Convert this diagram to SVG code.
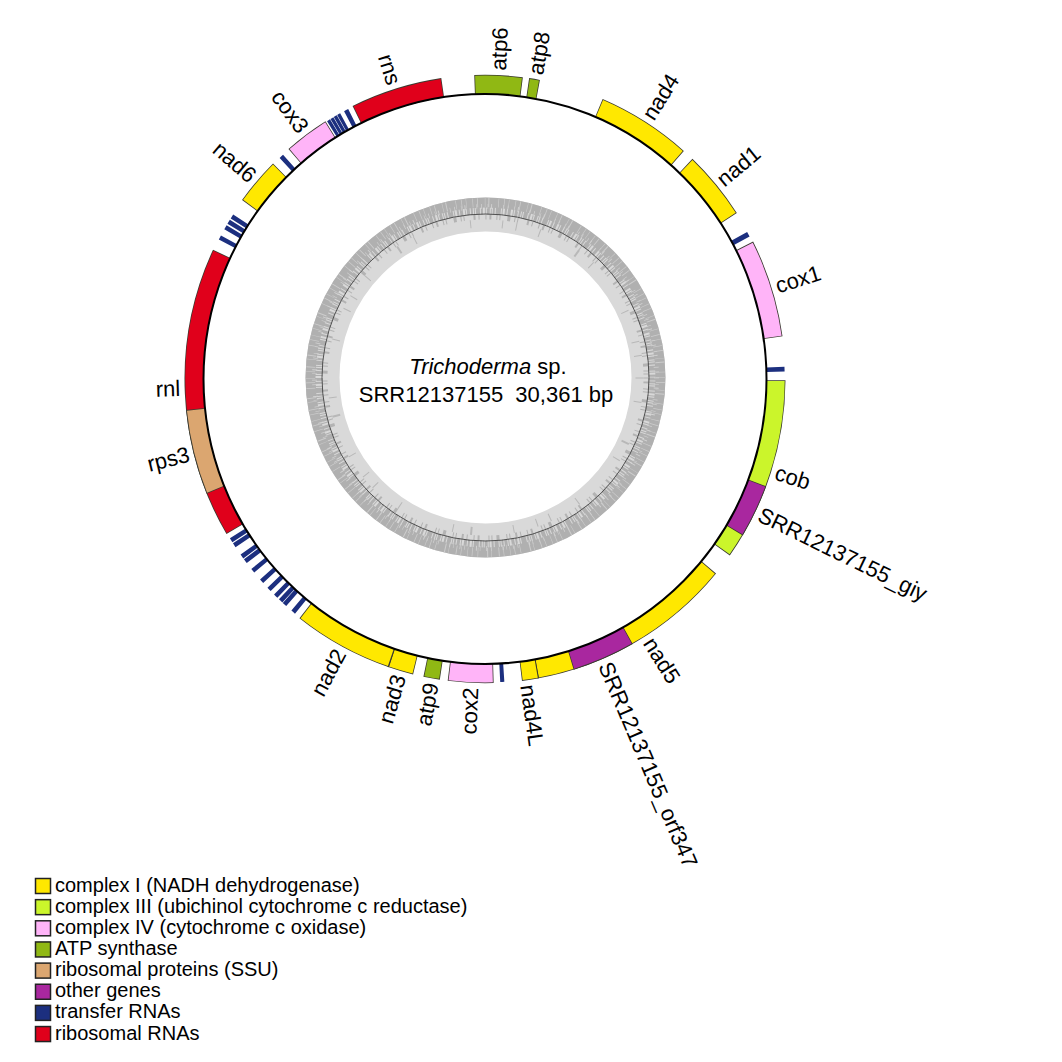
<svg xmlns="http://www.w3.org/2000/svg" width="1062" height="1062" viewBox="0 0 1062 1062">
<style>
text{font-family:"Liberation Sans",Arial,Helvetica,sans-serif;fill:#000}
.lbl{font-size:22px}
.ol{fill:none;stroke:#3a3a30;stroke-width:19.2}
.f{fill:none;stroke-width:18.2}
.t{fill:none;stroke:#1c2f7f;stroke-width:18.2}
.cI{stroke:#ffe800}
.cIII{stroke:#cbf52b}
.cIV{stroke:#ffb4f8}
.atp{stroke:#90b814}
.rp{stroke:#dba670}
.oth{stroke:#a9279f}
.rr{stroke:#e0001b}
.lg{stroke:#222;stroke-width:1.5}
.leg{font-size:20px}
</style>
<rect width="1062" height="1062" fill="#fff"/>

<g id="gc-ring" fill="none">
<circle cx="485.5" cy="377.5" r="163" stroke="#d9d9d9" stroke-width="34"/>
<circle cx="485.5" cy="377.5" r="175" stroke="#b0b0b0" stroke-width="10"/>
<circle cx="485.5" cy="377.5" r="167" stroke="#b0b0b0" stroke-width="8" stroke-dasharray="3 1 2 1 1 1 4 1 2 2 1 1 3 1 1 1 2 1 5 1 1 2 2 1 3 2 1 1"/>
<circle cx="485.5" cy="377.5" r="160.5" stroke="#b3b3b3" stroke-width="5" stroke-dasharray="1 3 2 5 1 2 1 7 3 4 1 2 1 9 2 3 1 6"/>
<circle cx="485.5" cy="377.5" r="154" stroke="#b8b8b8" stroke-width="8" stroke-dasharray="1 23 1 41 2 17 1 57 1 31 1 13"/>
<circle cx="485.5" cy="377.5" r="175" stroke="#cdcdcd" stroke-width="9" stroke-dasharray="0.6 4 0.8 7 0.5 3 1 9 0.6 5 0.7 4 0.5 6"/>
<circle cx="485.5" cy="377.5" r="171" stroke="#d2d2d2" stroke-width="5" stroke-dasharray="0.7 6 0.5 3 0.9 11 0.6 4"/>
<circle cx="485.5" cy="377.5" r="163.5" stroke="#333" stroke-width="0.8"/>
</g>

<g id="title">
<text x="488" y="374" text-anchor="middle" font-size="22"><tspan font-style="italic">Trichoderma</tspan> sp.</text>
<text x="486" y="402" text-anchor="middle" font-size="22">SRR12137155 &#160;30,361 bp</text>
</g>

<g id="map" transform="translate(485 379) scale(1 1.0124)">
<g id="atp6"><circle class="ol" r="290.9" pathLength="360" transform="rotate(267.95)" stroke-dasharray="9.3 400"/><circle class="f atp" r="290.6" pathLength="360" transform="rotate(268.1)" stroke-dasharray="9 400"/><text class="lbl" transform="rotate(-87.5) translate(305 0)" dy="0.35em">atp6</text></g>
<g id="atp8"><circle class="ol" r="290.9" pathLength="360" transform="rotate(-81.55)" stroke-dasharray="2.1 400"/><circle class="f atp" r="290.6" pathLength="360" transform="rotate(-81.4)" stroke-dasharray="1.8 400"/><text class="lbl" transform="rotate(-80.5) translate(305 0)" dy="0.35em">atp8</text></g>
<g id="nad4"><circle class="ol" r="290.9" pathLength="360" transform="rotate(-66.95)" stroke-dasharray="18.4 400"/><circle class="f cI" r="290.6" pathLength="360" transform="rotate(-66.8)" stroke-dasharray="18.1 400"/><text class="lbl" transform="rotate(-57.8) translate(305 0)" dy="0.35em">nad4</text></g>
<g id="nad1"><circle class="ol" r="290.9" pathLength="360" transform="rotate(-46.35)" stroke-dasharray="13.3 400"/><circle class="f cI" r="290.6" pathLength="360" transform="rotate(-46.2)" stroke-dasharray="13 400"/><text class="lbl" transform="rotate(-39.7) translate(305 0)" dy="0.35em">nad1</text></g>
<g id="trn1"><circle class="t" r="290.6" pathLength="360" transform="rotate(-29)" stroke-dasharray="1 400"/></g>
<g id="cox1"><circle class="ol" r="290.9" pathLength="360" transform="rotate(-26.85)" stroke-dasharray="18.8 400"/><circle class="f cIV" r="290.6" pathLength="360" transform="rotate(-26.7)" stroke-dasharray="18.5 400"/><text class="lbl" transform="rotate(-17.5) translate(305 0)" dy="0.35em">cox1</text></g>
<g id="trn2"><circle class="t" r="290.6" pathLength="360" transform="rotate(-2.3)" stroke-dasharray="0.9 400"/></g>
<g id="cob"><circle class="ol" r="290.9" pathLength="360" transform="rotate(0.25)" stroke-dasharray="35.2 400"/><circle class="f cIII" r="290.6" pathLength="360" transform="rotate(0.4)" stroke-dasharray="20.4 400"/><circle class="f cIII" r="290.6" pathLength="360" transform="rotate(30.8)" stroke-dasharray="4.5 400"/><text class="lbl" transform="rotate(17.5) translate(305 0)" dy="0.35em">cob</text></g>
<g id="giy"><circle class="ol" r="290.9" pathLength="360" transform="rotate(20.65)" stroke-dasharray="10.3 400"/><circle class="f oth" r="290.6" pathLength="360" transform="rotate(20.8)" stroke-dasharray="10 400"/><text class="lbl" transform="rotate(25.8) translate(305 0)" dy="0.35em">SRR12137155_giy</text></g>
<g id="nad5"><circle class="ol" r="290.9" pathLength="360" transform="rotate(39.75)" stroke-dasharray="40.2 400"/><circle class="f cI" r="290.6" pathLength="360" transform="rotate(39.9)" stroke-dasharray="20.8 400"/><circle class="f cI" r="290.6" pathLength="360" transform="rotate(72.7)" stroke-dasharray="7.0 400"/><text class="lbl" transform="rotate(57.5) translate(305 0)" dy="0.35em">nad5</text></g>
<g id="orf347"><circle class="ol" r="290.9" pathLength="360" transform="rotate(60.55)" stroke-dasharray="12.3 400"/><circle class="f oth" r="290.6" pathLength="360" transform="rotate(60.7)" stroke-dasharray="12 400"/><text class="lbl" transform="rotate(66.8) translate(305 0)" dy="0.35em">SRR12137155_orf347</text></g>
<g id="nad4L"><circle class="ol" r="290.9" pathLength="360" transform="rotate(79.65)" stroke-dasharray="3.3 400"/><circle class="f cI" r="290.6" pathLength="360" transform="rotate(79.85)" stroke-dasharray="2.95 400"/><text class="lbl" transform="rotate(81.9) translate(305 0)" dy="0.35em">nad4L</text></g>
<g id="trn3"><circle class="t" r="290.6" pathLength="360" transform="rotate(86.3)" stroke-dasharray="0.8 400"/></g>
<g id="cox2"><circle class="ol" r="290.9" pathLength="360" transform="rotate(88.35)" stroke-dasharray="8.8 400"/><circle class="f cIV" r="290.6" pathLength="360" transform="rotate(88.5)" stroke-dasharray="8.5 400"/><text class="lbl" transform="rotate(-87.3) translate(-305 0)" dy="0.35em" text-anchor="end">cox2</text></g>
<g id="atp9"><circle class="ol" r="290.9" pathLength="360" transform="rotate(98.65)" stroke-dasharray="3.2 400"/><circle class="f atp" r="290.6" pathLength="360" transform="rotate(98.8)" stroke-dasharray="2.9 400"/><text class="lbl" transform="rotate(-79.8) translate(-305 0)" dy="0.35em" text-anchor="end">atp9</text></g>
<g id="nad3"><circle class="ol" r="290.9" pathLength="360" transform="rotate(103.85)" stroke-dasharray="5.1 400"/><circle class="f cI" r="290.6" pathLength="360" transform="rotate(104)" stroke-dasharray="4.7 400"/><text class="lbl" transform="rotate(-73.6) translate(-305 0)" dy="0.35em" text-anchor="end">nad3</text></g>
<g id="nad2"><circle class="ol" r="290.9" pathLength="360" transform="rotate(108.65)" stroke-dasharray="19.5 400"/><circle class="f cI" r="290.6" pathLength="360" transform="rotate(108.9)" stroke-dasharray="19.1 400"/><text class="lbl" transform="rotate(-61.6) translate(-305 0)" dy="0.35em" text-anchor="end">nad2</text></g>
<g id="trn-cluster-a">
<circle class="t" r="290.6" pathLength="360" transform="rotate(129.35)" stroke-dasharray="0.9 400"/>
<circle class="t" r="290.6" pathLength="360" transform="rotate(131.55)" stroke-dasharray="0.9 400"/>
<circle class="t" r="290.6" pathLength="360" transform="rotate(132.55)" stroke-dasharray="0.9 400"/>
<circle class="t" r="290.6" pathLength="360" transform="rotate(133.85)" stroke-dasharray="0.9 400"/>
<circle class="t" r="290.6" pathLength="360" transform="rotate(135.65)" stroke-dasharray="0.9 400"/>
<circle class="t" r="290.6" pathLength="360" transform="rotate(137.75)" stroke-dasharray="0.9 400"/>
<circle class="t" r="290.6" pathLength="360" transform="rotate(140.35)" stroke-dasharray="0.9 400"/>
<circle class="t" r="290.6" pathLength="360" transform="rotate(142.65)" stroke-dasharray="0.9 400"/>
<circle class="t" r="290.6" pathLength="360" transform="rotate(143.75)" stroke-dasharray="0.9 400"/>
<circle class="t" r="290.6" pathLength="360" transform="rotate(146.35)" stroke-dasharray="0.9 400"/>
<circle class="t" r="290.6" pathLength="360" transform="rotate(147.45)" stroke-dasharray="0.9 400"/>
</g>
<g id="rnl"><circle class="ol" r="290.9" pathLength="360" transform="rotate(149.35)" stroke-dasharray="55.8 400"/><circle class="f rr" r="290.6" pathLength="360" transform="rotate(149.5)" stroke-dasharray="8.5 400"/><circle class="f rr" r="290.6" pathLength="360" transform="rotate(174)" stroke-dasharray="31 400"/><text class="lbl" transform="rotate(-1.7) translate(-305 0)" dy="0.35em" text-anchor="end">rnl</text></g>
<g id="rps3"><circle class="ol" r="290.9" pathLength="360" transform="rotate(157.85)" stroke-dasharray="16.3 400"/><circle class="f rp" r="290.6" pathLength="360" transform="rotate(158)" stroke-dasharray="16 400"/><text class="lbl" transform="rotate(-14) translate(-305 0)" dy="0.35em" text-anchor="end">rps3</text></g>
<g id="trn-cluster-b">
<circle class="t" r="290.6" pathLength="360" transform="rotate(207.35)" stroke-dasharray="0.9 400"/>
<circle class="t" r="290.6" pathLength="360" transform="rotate(209.55)" stroke-dasharray="0.9 400"/>
<circle class="t" r="290.6" pathLength="360" transform="rotate(210.75)" stroke-dasharray="0.9 400"/>
<circle class="t" r="290.6" pathLength="360" transform="rotate(211.95)" stroke-dasharray="0.9 400"/>
</g>
<g id="nad6"><circle class="ol" r="290.9" pathLength="360" transform="rotate(216.05)" stroke-dasharray="9.1 400"/><circle class="f cI" r="290.6" pathLength="360" transform="rotate(216.2)" stroke-dasharray="8.8 400"/><text class="lbl" transform="rotate(40.6) translate(-305 0)" dy="0.35em" text-anchor="end">nad6</text></g>
<g id="trn4"><circle class="t" r="290.6" pathLength="360" transform="rotate(226.75)" stroke-dasharray="0.9 400"/></g>
<g id="cox3"><circle class="ol" r="290.9" pathLength="360" transform="rotate(229.15)" stroke-dasharray="8.8 400"/><circle class="f cIV" r="290.6" pathLength="360" transform="rotate(229.3)" stroke-dasharray="8.5 400"/><text class="lbl" transform="rotate(53.6) translate(-305 0)" dy="0.35em" text-anchor="end">cox3</text></g>
<g id="trn-cluster-c">
<circle class="t" r="290.6" pathLength="360" transform="rotate(238.2)" stroke-dasharray="0.66 400"/>
<circle class="t" r="290.6" pathLength="360" transform="rotate(238.95)" stroke-dasharray="0.66 400"/>
<circle class="t" r="290.6" pathLength="360" transform="rotate(239.7)" stroke-dasharray="0.66 400"/>
<circle class="t" r="290.6" pathLength="360" transform="rotate(240.45)" stroke-dasharray="0.66 400"/>
<circle class="t" r="290.6" pathLength="360" transform="rotate(241.95)" stroke-dasharray="0.9 400"/>
</g>
<g id="rns"><circle class="ol" r="290.9" pathLength="360" transform="rotate(243.85)" stroke-dasharray="17.8 400"/><circle class="f rr" r="290.6" pathLength="360" transform="rotate(244)" stroke-dasharray="17.5 400"/><text class="lbl" transform="rotate(72.7) translate(-305 0)" dy="0.35em" text-anchor="end">rns</text></g>
<circle id="genome" r="281.5" fill="none" stroke="#000" stroke-width="2"/>
</g>

<g id="legend">
<rect class="lg" x="35.5" y="878.5" width="15" height="15" fill="#ffe800"/><text class="leg" x="55" y="891.5">complex I (NADH dehydrogenase)</text>
<rect class="lg" x="35.5" y="899.65" width="15" height="15" fill="#cbf52b"/><text class="leg" x="55" y="912.65">complex III (ubichinol cytochrome c reductase)</text>
<rect class="lg" x="35.5" y="920.8" width="15" height="15" fill="#ffb4f8"/><text class="leg" x="55" y="933.8">complex IV (cytochrome c oxidase)</text>
<rect class="lg" x="35.5" y="941.95" width="15" height="15" fill="#90b814"/><text class="leg" x="55" y="954.95">ATP synthase</text>
<rect class="lg" x="35.5" y="963.1" width="15" height="15" fill="#dba670"/><text class="leg" x="55" y="976.1">ribosomal proteins (SSU)</text>
<rect class="lg" x="35.5" y="984.25" width="15" height="15" fill="#a9279f"/><text class="leg" x="55" y="997.25">other genes</text>
<rect class="lg" x="35.5" y="1005.4" width="15" height="15" fill="#1c2f7f"/><text class="leg" x="55" y="1018.4">transfer RNAs</text>
<rect class="lg" x="35.5" y="1026.55" width="15" height="15" fill="#e0001b"/><text class="leg" x="55" y="1039.55">ribosomal RNAs</text>
</g>
</svg>
